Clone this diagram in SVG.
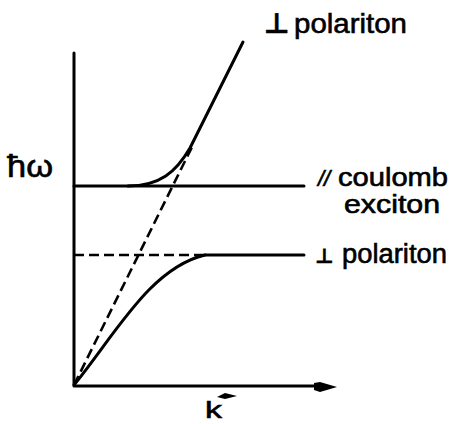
<svg xmlns="http://www.w3.org/2000/svg" width="460" height="424" viewBox="0 0 460 424">
<style>
.ln{fill:none;stroke:#000;stroke-width:3;stroke-linecap:round;stroke-linejoin:round}
.ds{fill:none;stroke:#000;stroke-width:2.6;stroke-dasharray:10 5}
.t{font-family:"Liberation Sans","DejaVu Sans",sans-serif;fill:#000;stroke:#000;stroke-width:0.6}
</style>
<rect width="460" height="424" fill="#fff"/>
<g id="axes">
<path class="ln" d="M74,53 L74,386 L318,386"/>
<path d="M314,383 L320,382 L337,387 L320,392 L314,390 Z" fill="#000"/>
</g>
<g id="connectors">
<path class="ln" d="M74,186 L304,186"/>
<path class="ds" d="M74,255 L205,255"/>
<path class="ln" d="M205,255 L304,255"/>
<path class="ds" d="M74,385 L192,147"/>
<path class="ln" d="M74,385 C115,335 150,268 205,255"/>
<path class="ln" d="M128,186 C160,186 176,172 190,148 L243,42"/>
</g>
<g id="labels">
<text class="t" x="7" y="177" font-size="31" font-family="DejaVu Sans" textLength="46" lengthAdjust="spacingAndGlyphs">ħω</text>
<text class="t" x="264" y="33" font-size="28" font-weight="bold" font-family="DejaVu Sans">⊥</text>
<text class="t" x="294" y="33" font-size="28" textLength="113" lengthAdjust="spacingAndGlyphs">polariton</text>
<text class="t" x="318" y="186" font-size="22" font-style="italic">//</text>
<text class="t" x="338" y="186" font-size="25" textLength="110" lengthAdjust="spacingAndGlyphs">coulomb</text>
<text class="t" x="344" y="213" font-size="25" textLength="96" lengthAdjust="spacingAndGlyphs">exciton</text>
<text class="t" x="315" y="263" font-size="20" font-weight="bold" font-family="DejaVu Sans">⊥</text>
<text class="t" x="342" y="263" font-size="27" textLength="105" lengthAdjust="spacingAndGlyphs">polariton</text>
<text class="t" x="205" y="418" font-size="24" textLength="17" lengthAdjust="spacingAndGlyphs">k</text>
<path d="M217,397 L225,393 L237,396 L225,399 Z" fill="#000"/>
</g>
</svg>
